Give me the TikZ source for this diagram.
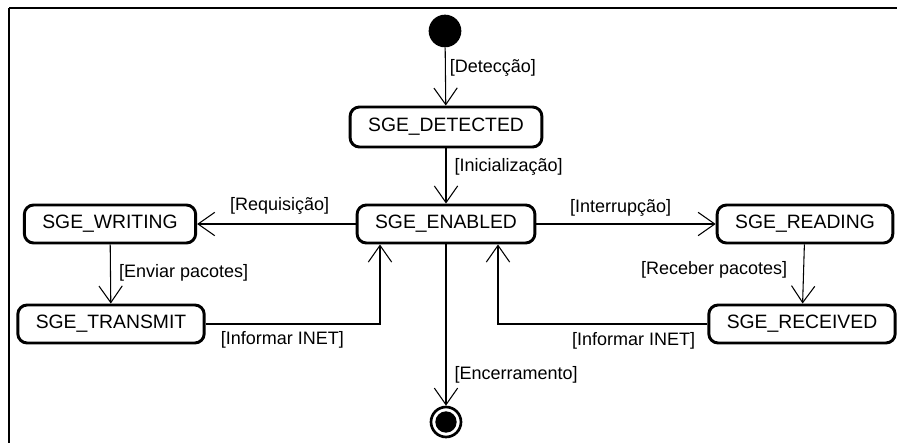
\documentclass[tikz,border=0pt]{standalone}
\usepackage{fontspec}
\setmainfont{Liberation Sans}
\usetikzlibrary{arrows.meta,calc}

\tikzset{
  state/.style={draw, line width=2.2pt, rounded corners=7pt, font=\fontsize{14.5}{17}\selectfont,
    inner xsep=13.5pt, minimum height=28.5pt},
  trans/.style={draw, line width=0.8pt, -{Straight Barb[length=12.5pt,width=17.5pt,line width=0.8pt]}},
  lbl/.style={font=\fontsize{13.5}{16}\selectfont, inner sep=1pt},
}

\begin{document}
\begin{tikzpicture}[x=0.75pt,y=0.75pt,yscale=-1,xscale=1]
\useasboundingbox (0,0) rectangle (897,443);

%Shape: Frame
\draw [line width=1.6pt] (9,8) -- (920,8) ;
\draw [line width=1.6pt] (9,8) -- (9,460) ;

%Shape: Initial state
\node (init) at (445,31) [circle, fill=black, minimum size=24.5pt, inner sep=0pt] {};
%Shape: Final state
\node (final) at (446,422) [circle, draw, line width=2pt, minimum size=22.5pt, inner sep=0pt] {};
\fill (final) circle (8pt) ;

% States
\node (detected) at (446,127) [state, minimum height=30pt] {SGE\_DETECTED};
\node (enabled)  at (446,224) [state] {SGE\_ENABLED};
\node (writing)  at (110,224) [state] {SGE\_WRITING};
\node (transmit) at (111,324) [state] {SGE\_TRANSMIT};
\node (reading)  at (805,224) [state] {SGE\_READING};
\node (received) at (802,324) [state] {SGE\_RECEIVED};

% Transitions
\draw [trans] (init) -- node [lbl, anchor=west, pos=0.35, xshift=2pt] {[Detecção]} (detected) ;
\draw [trans] (detected) -- node [lbl, anchor=west, pos=0.34, xshift=5pt] {[Inicialização]} (enabled) ;
\draw [trans] (enabled) -- node [lbl, anchor=south, pos=0.48, yshift=6pt] {[Requisição]} (writing) ;
\draw [trans] (enabled) -- node [lbl, anchor=south, pos=0.47, yshift=4pt] {[Interrupção]} (reading) ;
\draw [trans] (writing) -- node [lbl, anchor=west, pos=0.48, xshift=5pt] {[Enviar pacotes]} (transmit) ;
\draw [trans] (reading) -- node [lbl, anchor=east, pos=0.43, xshift=-11pt] {[Receber pacotes]} (received) ;
\draw [trans] (transmit.east) -| node [lbl, anchor=north, pos=0.22, yshift=-4pt] {[Informar INET]} ($(enabled.south)+(-66,0)$) ;
\draw [trans] (received.west) -| node [lbl, anchor=north, pos=0.176, yshift=-5pt] {[Informar INET]} ($(enabled.south)+(52,0)$) ;
\draw [trans] (enabled) -- node [lbl, anchor=west, pos=0.81, xshift=5pt] {[Encerramento]} (final) ;

\end{tikzpicture}
\end{document}
